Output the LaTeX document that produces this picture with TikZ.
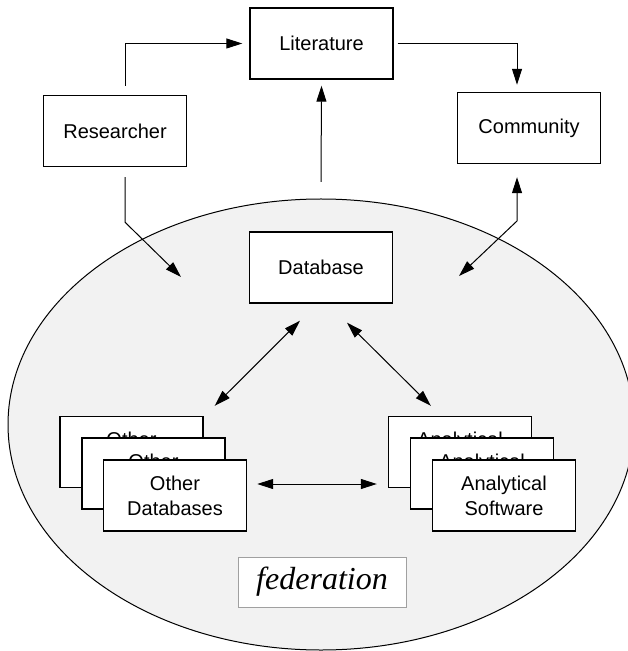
\documentclass[tikz,border=0pt]{standalone}
\usepackage{fontspec}
\setmainfont{Liberation Sans}
\newfontfamily\fedfont{Liberation Serif}
\usepackage{tikz}
\usetikzlibrary{arrows.meta, positioning, calc}
\definecolor{fedgray}{RGB}{242, 242, 242}
\definecolor{fedline}{RGB}{160, 160, 160}

\begin{document}
\begin{tikzpicture}[x=0.5pt, y=-0.5pt,
		boxnode/.style={draw, line width=0.7pt, fill=white, minimum width=71.5pt, minimum height=35.5pt,
			inner sep=0pt, align=center, font=\fontsize{10}{12.5}\selectfont},
		arr/.style={line width=0.5pt, -{Triangle[length=8pt,width=5pt]}},
		arrs/.style={line width=0.5pt, {Triangle[length=8pt,width=5pt]}-{Triangle[length=8pt,width=5pt]}}]
	\useasboundingbox (0,0) rectangle (627,651);
	\draw[line width=0.5pt, fill=fedgray] (321,424.5) ellipse [x radius=156.5pt, y radius=112.75pt];
	% top row
	\node[boxnode] (lit) at (321.5,43.5) {Literature};
	\node[boxnode] (res) at (115,131) {Researcher};
	\node[boxnode] (com) at (529,128) {Community};
	\node[boxnode] (db) at (321,267.5) {Database};
	% stacks
	\node[boxnode] (od1) at (131.5,452) {Other\\Databases};
	\node[boxnode] (od2) at (153.5,473.5) {Other\\Databases};
	\node[boxnode] (od3) at (175,495.5) {Other\\Databases};
	\node[boxnode] (as1) at (460,452) {Analytical\\Software};
	\node[boxnode] (as2) at (482,473.5) {Analytical\\Software};
	\node[boxnode] (as3) at (504,495.5) {Analytical\\Software};
	\node[draw=fedline, line width=0.5pt, fill=white, minimum width=84pt, minimum height=25pt, inner sep=0pt,
		font=\fedfont\itshape\fontsize{16}{18}\selectfont] (fed) at (322,582) {federation};
	% loose ends inside the federation
	\coordinate (litin) at (321,182);
	\coordinate (resin) at (181,277);
	\coordinate (comin) at (459,276);
	% connectors
	\draw[arr] ([xshift=5pt,yshift=4.5pt]res.north) |- ([xshift=-3.5pt]lit.west);
	\draw[arr] ([xshift=2pt]lit.east) -| ([xshift=-6pt,yshift=3.5pt]com.north);
	\draw[arr] (litin) -- ([yshift=-3pt]lit.south);
	\draw[arr] ([xshift=5pt,yshift=-5pt]res.south) -- ++(0,45) -- (resin);
	\draw[arrs] (comin) -- ++(58,-55) -- ([xshift=-6pt,yshift=-6.5pt]com.south);
	\draw[arrs] ([xshift=-10.5pt,yshift=-8.5pt]db.south) -- ([xshift=5.5pt,yshift=5pt]od1.north east);
	\draw[arrs] ([xshift=13pt,yshift=-9.5pt]db.south) -- ([xshift=21.5pt,yshift=5pt]as1.north west);
	\draw[arrs] ([xshift=5pt,yshift=5.75pt]od3.east) -- ([xshift=-5.5pt,yshift=5.75pt]od3.east -| as1.west);
\end{tikzpicture}
\end{document}
